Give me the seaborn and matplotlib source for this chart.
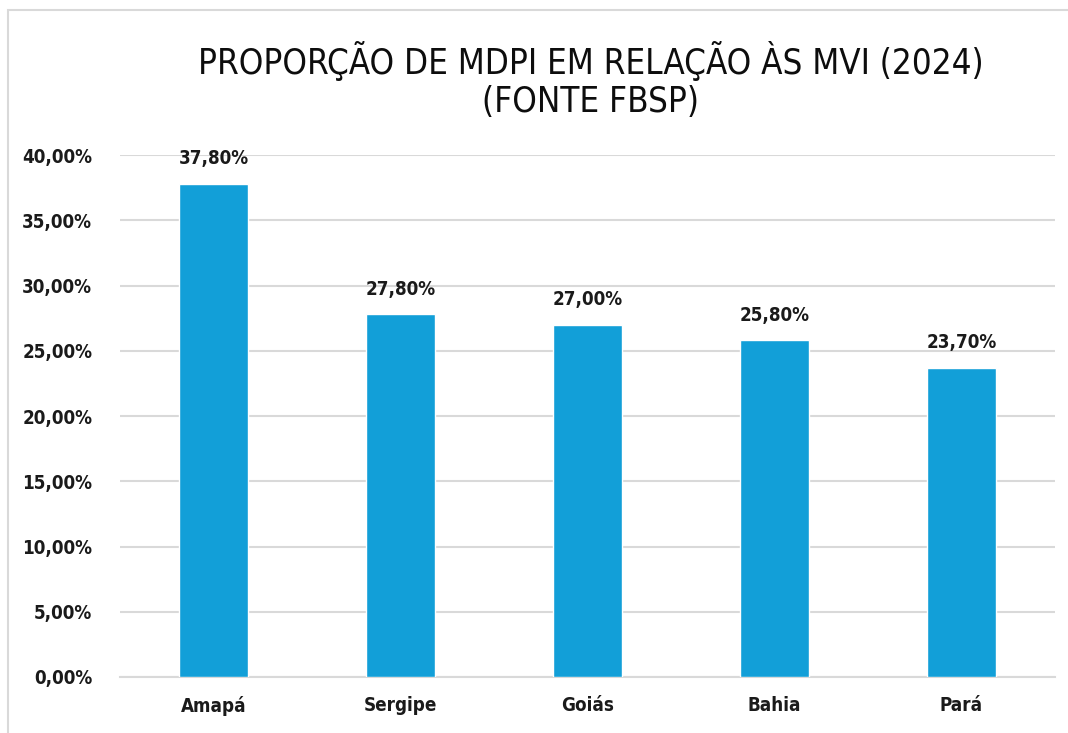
import seaborn as sns
import matplotlib.pyplot as plt
import matplotlib.ticker as mticker
import pandas as pd
from matplotlib.patches import Rectangle

# data
estados = ["Amapá", "Sergipe", "Goiás", "Bahia", "Pará"]
proporcao = [37.8, 27.8, 27.0, 25.8, 23.7]
y_ticks = [0, 5, 10, 15, 20, 25, 30, 35, 40]

df = pd.DataFrame({"Estado": estados, "Proporcao": proporcao})

sns.set_style("white")
plt.rcParams["font.family"] = ["DejaVu Sans"]
plt.rcParams["font.stretch"] = "condensed"

fig = plt.figure(figsize=(10.68, 7.33), dpi=100)
ax = fig.add_axes([0.1124, 0.0764, 0.8754, 0.7121])

sns.barplot(data=df, x="Estado", y="Proporcao", color="#129FD8",
            saturation=1, width=0.37, ax=ax, zorder=3)

ax.set_ylim(0, 40)
ax.set_xlim(-0.5, len(estados) - 0.5)
ax.set_yticks(y_ticks)
ax.yaxis.set_major_formatter(
    mticker.FuncFormatter(lambda v, p: f"{v:.2f}".replace(".", ",") + "%"))
ax.grid(axis="y", color="#D9D9D9", linewidth=1.5, zorder=0)
ax.grid(axis="x", visible=False)
for s in ["top", "right", "left"]:
    ax.spines[s].set_visible(False)
ax.spines["bottom"].set_color("#D9D9D9")
ax.spines["bottom"].set_linewidth(1.5)
ax.tick_params(axis="both", length=0, labelsize=13.5, colors="#1a1a1a")
ax.tick_params(axis="y", pad=20)
ax.tick_params(axis="x", pad=14)
for lbl in ax.get_xticklabels() + ax.get_yticklabels():
    lbl.set_fontweight("bold")
    lbl.set_fontstretch("condensed")
ax.set_xlabel("")
ax.set_ylabel("")

for i, v in enumerate(proporcao):
    ax.text(i, v + 1.2, f"{v:.2f}".replace(".", ",") + "%", ha="center",
            va="bottom", fontsize=13.5, fontweight="bold", color="#1a1a1a",
            fontstretch="condensed")

fig.text(0.553, 0.891, "PROPORÇÃO DE MDPI EM RELAÇÃO ÀS MVI (2024)\n(FONTE FBSP)",
         ha="center", va="center", fontsize=25, color="#0d0d0d",
         linespacing=1.15, fontstretch="condensed")

# thin frame around the chart area
fig.patches.append(Rectangle((0.0075, -0.01), 1.5, 0.996, transform=fig.transFigure,
                             fill=False, edgecolor="#D9D9D9", linewidth=1.5))

plt.savefig("out.png", dpi=100)
plt.close()
